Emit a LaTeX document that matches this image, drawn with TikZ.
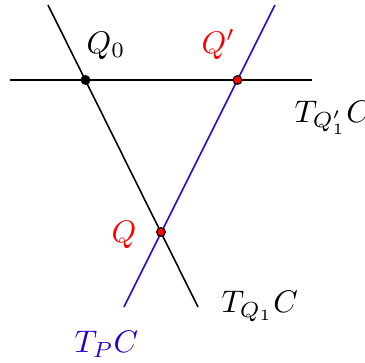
\documentclass[tikz,border=0pt]{standalone}
\usepackage{tikz}
\definecolor{clrTan}{RGB}{40,0,200}
\definecolor{clrPt}{RGB}{255,0,0}

\begin{document}
\begin{tikzpicture}[
  x=0.32pt, y=-0.32pt,
  ln/.style={line width=0.5pt},
  dot/.style={circle, draw=black, line width=0.35pt, inner sep=0pt,
              minimum size=2.8pt},
  lbl/.style={anchor=base west, inner sep=0pt}
]
\useasboundingbox (0,0) rectangle (365,363);

% ends of the three lines
\coordinate (a1) at (48,5);
\coordinate (a2) at (198,307);
\coordinate (b1) at (275,5);
\coordinate (b2) at (124,307);
\coordinate (h1) at (10,80);
\coordinate (h2) at (312,80);

\draw[ln] (h1) -- (h2);
\draw[ln] (a1) -- (a2);
\draw[ln, draw=clrTan] (b1) -- (b2);

\node[dot, fill=black]  (q0) at (85.5,80) {};
\node[dot, fill=clrPt]  (qp) at (237.5,80) {};
\node[dot, fill=clrPt]  (q)  at (161,232) {};

\node[lbl] (lq0) at (86,53)   {$Q_0$};
\node[lbl, text=clrPt] (lqp) at (201,53) {$Q'$};
\node[lbl] (lth) at (294,122) {$T_{Q'_1}C$};
\node[lbl, text=clrPt] (lq) at (111,243) {$Q$};
\node[lbl] (lta) at (221,313) {$T_{Q_1}C$};
\node[lbl, text=clrTan] (ltb) at (74,353) {$T_PC$};

\end{tikzpicture}
\end{document}
